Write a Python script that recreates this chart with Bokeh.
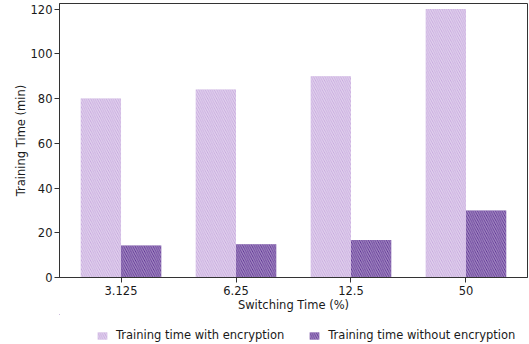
from bokeh.plotting import figure
from bokeh.layouts import column
from bokeh.models import Range1d, FixedTicker, Legend, LegendItem, ColumnDataSource
from bokeh.embed import file_html
from bokeh.resources import INLINE

# Switching time categories and training times (minutes)
switching_time = ["3.125", "6.25", "12.5", "50"]
with_encryption = [80, 84, 90, 120]
without_encryption = [14.3, 14.9, 16.8, 29.9]
series_labels = ["Training time with encryption", "Training time without encryption"]

bar_width = 0.35
xs = list(range(len(switching_time)))

src_enc = ColumnDataSource(dict(x=[i - bar_width / 2 for i in xs], top=with_encryption))
src_noenc = ColumnDataSource(dict(x=[i + bar_width / 2 for i in xs], top=without_encryption))

FONT = "DejaVu Sans"
FS = "11.5px"
TEXT = "#1a1a1a"
LIGHT_STYLE = dict(fill_color="#c4a5dc", line_color=None, hatch_pattern="\\",
                   hatch_color="white", hatch_alpha=0.5, hatch_scale=4.5, hatch_weight=1.3)
DARK_STYLE = dict(fill_color="#5a2d91", line_color=None, hatch_pattern="\\",
                  hatch_color="white", hatch_alpha=0.45, hatch_scale=4.5, hatch_weight=1.3)

p = figure(
    frame_width=468, frame_height=274,
    output_backend="svg", toolbar_location=None,
    x_range=Range1d(-0.535, 3.535), y_range=Range1d(0, 122.5),
    min_border_left=59, min_border_right=2, min_border_top=3, min_border_bottom=0,
)

p.vbar(x="x", top="top", width=bar_width, source=src_enc, **LIGHT_STYLE)
p.vbar(x="x", top="top", width=bar_width, source=src_noenc, **DARK_STYLE)

p.xgrid.visible = False
p.ygrid.visible = False
p.outline_line_color = "#333333"

p.xaxis.ticker = FixedTicker(ticks=xs)
p.xaxis.major_label_overrides = {i: s for i, s in zip(xs, switching_time)}
p.yaxis.ticker = FixedTicker(ticks=[0, 20, 40, 60, 80, 100, 120])
p.xaxis.axis_label = "Switching Time (%)"
p.yaxis.axis_label = "Training Time (min)"

for ax in (p.xaxis, p.yaxis):
    ax.axis_line_color = "#333333"
    ax.major_tick_line_color = "#333333"
    ax.major_tick_out = 5
    ax.major_tick_in = 0
    ax.minor_tick_line_color = None
    ax.major_label_text_font = FONT
    ax.major_label_text_font_size = FS
    ax.major_label_text_color = TEXT
    ax.axis_label_text_font = FONT
    ax.axis_label_text_font_size = FS
    ax.axis_label_text_font_style = "normal"
    ax.axis_label_text_color = TEXT
p.xaxis.axis_label_standoff = 0
p.xaxis.major_label_standoff = 3
p.yaxis.axis_label_standoff = 0
p.yaxis.major_label_standoff = 2

# Legend strip underneath the chart; its swatch renderers share the bar
# sources, while the strip's ranges keep the bars themselves out of view.
leg = figure(
    width=529, height=34, output_backend="svg", toolbar_location=None,
    x_range=Range1d(10, 11), y_range=Range1d(-20, -19),
    x_axis_location=None, y_axis_location=None,
    min_border=0, outline_line_color=None,
)
leg.grid.visible = False
r_light = leg.vbar(x="x", top="top", width=bar_width, source=src_enc, **LIGHT_STYLE)
r_dark = leg.vbar(x="x", top="top", width=bar_width, source=src_noenc, **DARK_STYLE)

legend = Legend(
    items=[
        LegendItem(label=series_labels[0], renderers=[r_light]),
        LegendItem(label=series_labels[1], renderers=[r_dark]),
    ],
    orientation="horizontal", location=(37, 3),
    border_line_color=None, background_fill_alpha=0,
    label_text_font=FONT, label_text_font_size=FS, label_text_color=TEXT,
    glyph_width=12, glyph_height=9, spacing=24, padding=2, margin=0,
    label_standoff=8, label_height=20,
)
leg.add_layout(legend, "center")

layout = column(p, leg, spacing=0)
open("out.html", "w").write(file_html(layout, INLINE))
